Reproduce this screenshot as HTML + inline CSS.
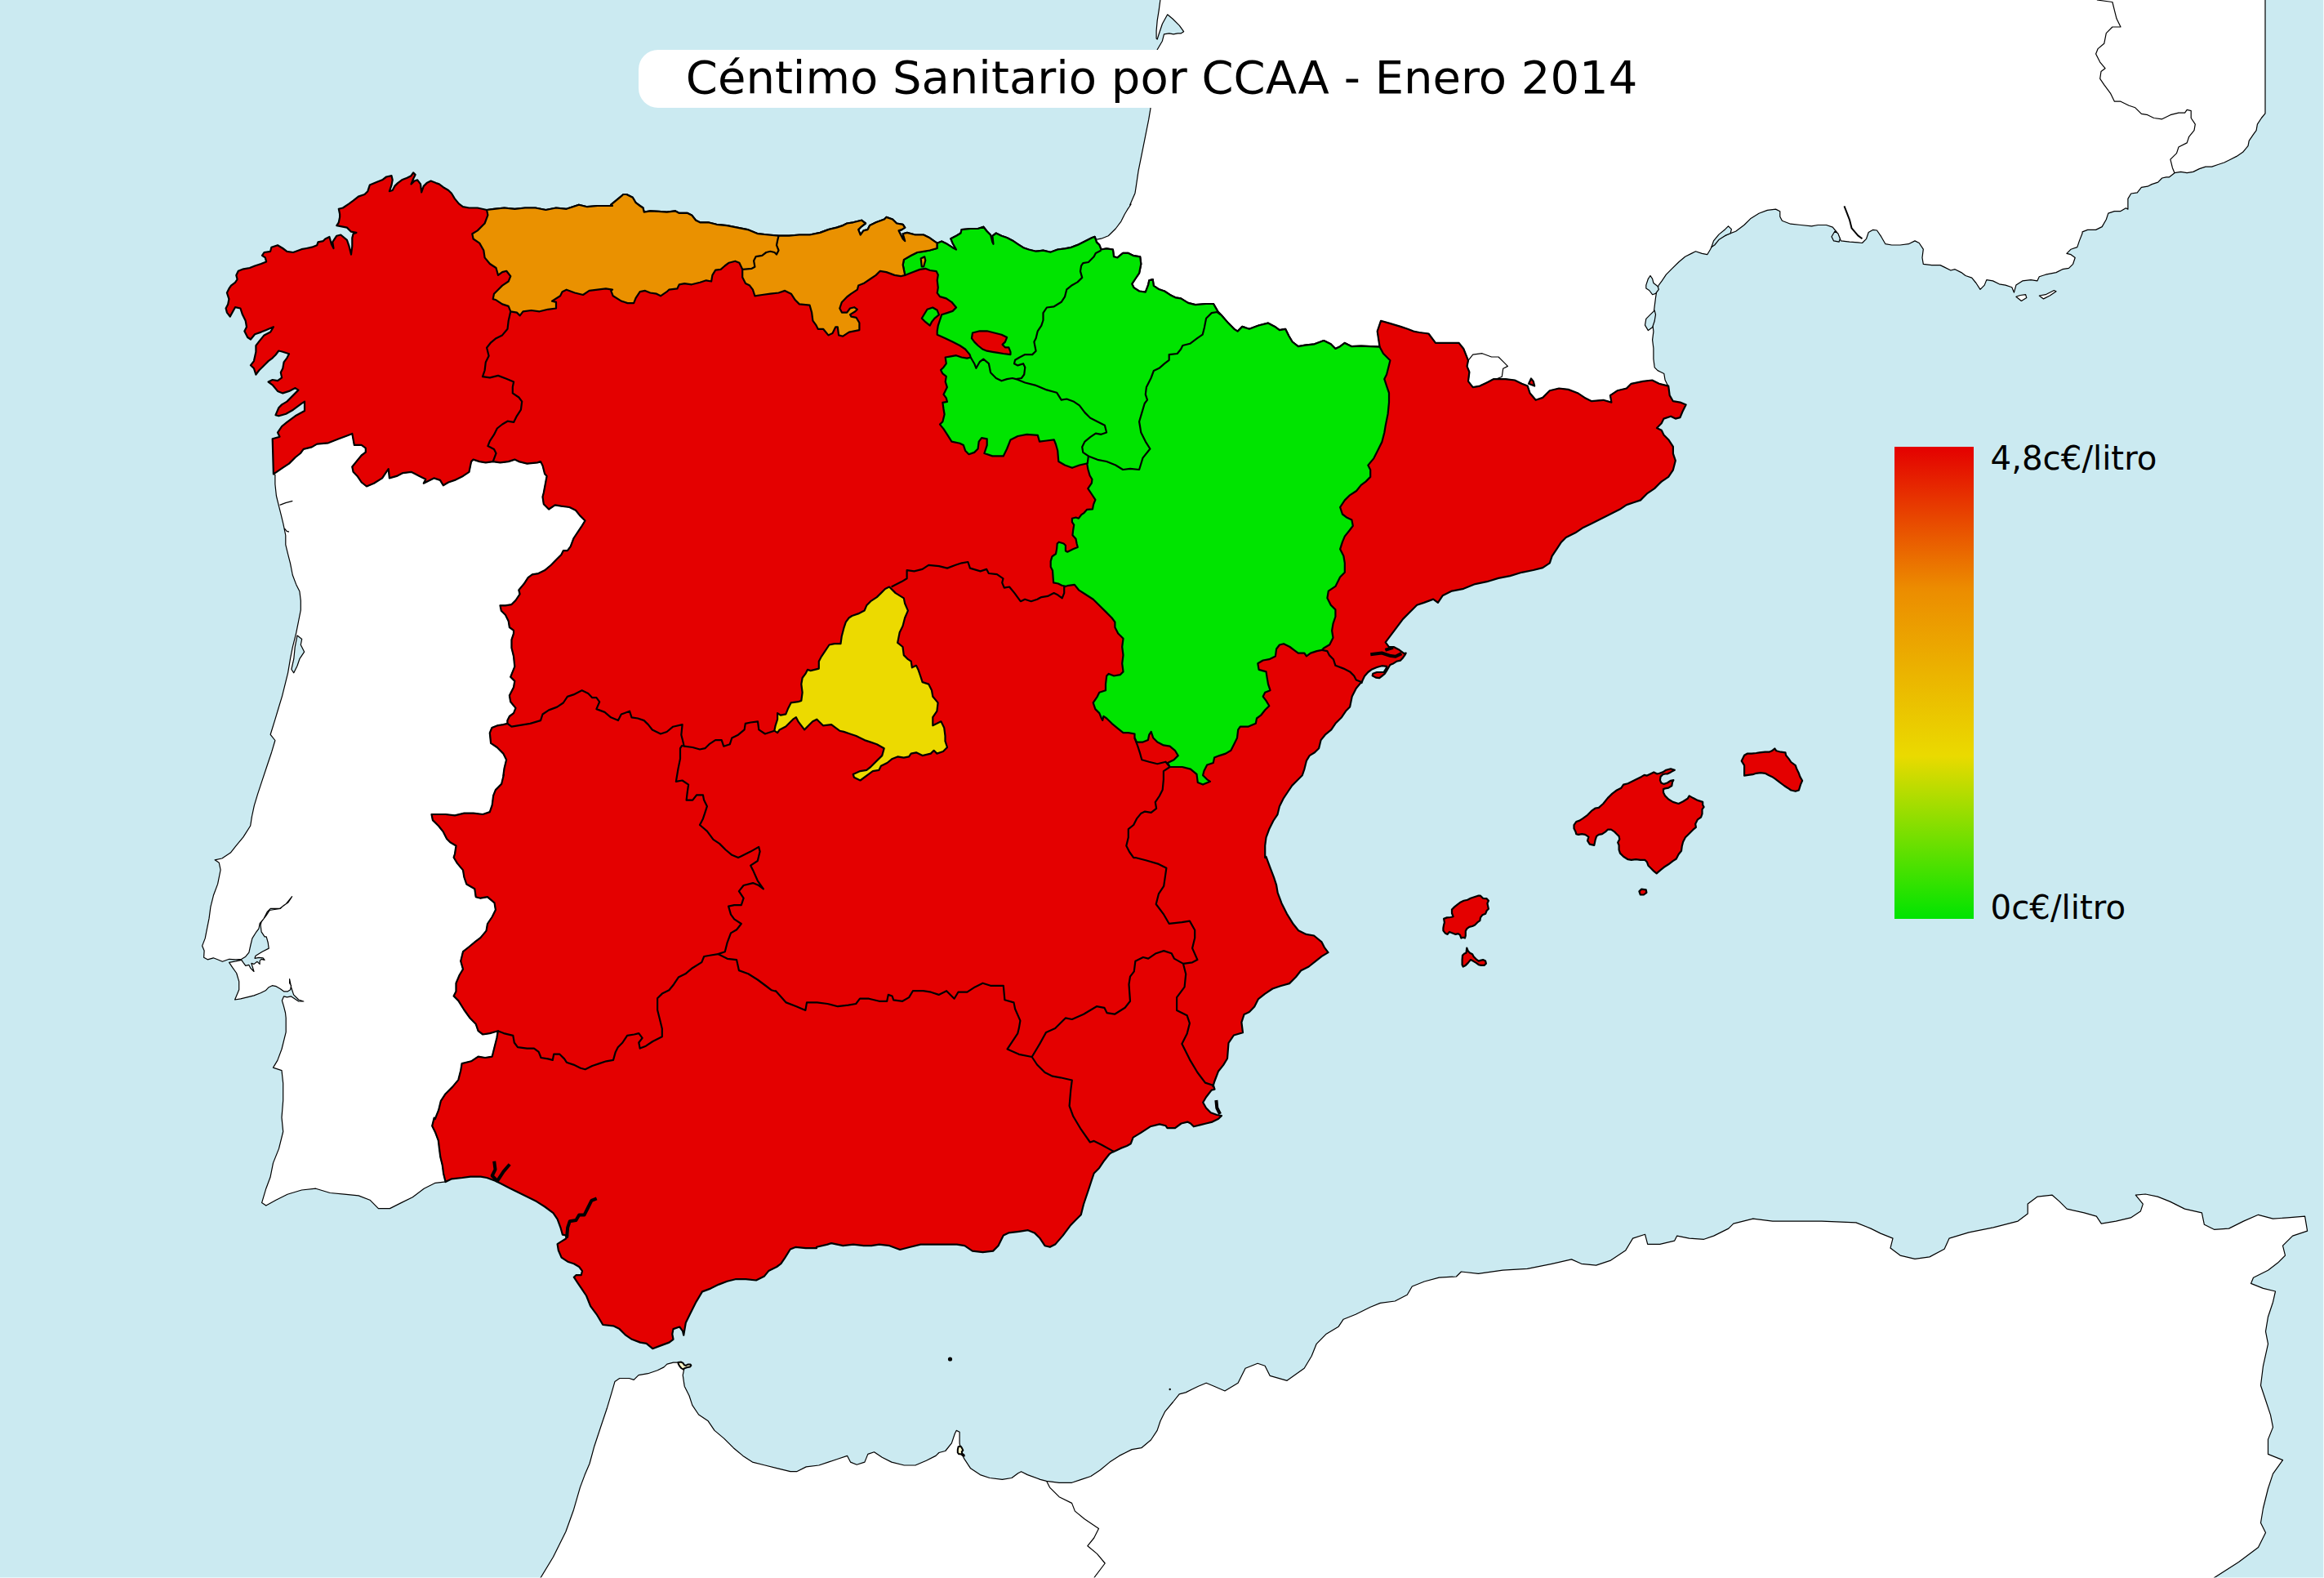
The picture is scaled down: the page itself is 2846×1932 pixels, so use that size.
<!DOCTYPE html><html><head><meta charset="utf-8"><title>Céntimo Sanitario por CCAA - Enero 2014</title><style>html,body{margin:0;padding:0;overflow:hidden;background:#cbeaf1;}svg{display:block;}</style></head><body><svg width="2846" height="1932" viewBox="0 0 2846 1932">
<defs><linearGradient id="cb" x1="0" y1="0" x2="0" y2="1"><stop offset="0" stop-color="#e40000"/><stop offset="0.3" stop-color="#ec8c00"/><stop offset="0.655" stop-color="#eada00"/><stop offset="1" stop-color="#00e400"/></linearGradient></defs>
<rect width="2846" height="1932" fill="#cbeaf1"/>
<g stroke="#000" stroke-width="1.2" stroke-linejoin="round" fill="#fff">
<polygon points="1421.5,-5.0 1420.9,0.0 1419.2,12.6 1417.2,25.1 1416.1,37.7 1416.1,47.1 1417.2,48.1 1419.2,41.8 1423.4,29.3 1429.7,17.8 1436.0,23.0 1444.4,31.4 1449.6,38.7 1446.4,40.8 1442.3,40.8 1437.0,41.8 1431.8,40.8 1425.5,41.8 1423.4,50.2 1417.2,60.7 1413.0,96.2 1408.8,133.9 1406.7,146.4 1402.5,167.4 1398.3,188.3 1394.1,209.2 1391.0,230.1 1390.0,236.4 1383.7,251.0 1385.1,250.0 1380.6,256.7 1377.3,262.2 1372.9,271.1 1366.2,280.0 1357.3,288.8 1348.5,292.2 1341.8,293.3 1348.5,305.5 1355.1,304.4 1362.9,305.5 1364.0,314.3 1368.4,315.4 1375.1,309.9 1381.8,309.9 1388.4,313.2 1396.2,314.3 1397.3,323.2 1395.1,334.3 1390.6,341.0 1386.2,347.6 1388.4,352.1 1395.1,356.5 1402.8,357.6 1406.2,348.7 1407.3,343.2 1411.7,342.1 1412.8,349.8 1419.5,354.3 1426.1,356.5 1432.8,360.9 1439.4,364.3 1446.1,365.4 1455.0,370.9 1463.8,373.1 1477.1,372.0 1486.0,372.0 1491.4,381.4 1495.6,385.7 1504.2,395.6 1511.3,402.8 1515.6,405.6 1521.3,399.9 1529.9,402.8 1541.3,398.5 1552.7,395.6 1561.2,399.9 1566.9,404.2 1574.1,402.8 1578.3,411.3 1582.6,418.5 1589.8,424.2 1598.3,422.7 1609.7,421.3 1621.1,417.0 1629.7,421.3 1635.4,427.0 1641.1,424.2 1646.8,419.9 1655.4,424.2 1666.8,423.6 1678.2,424.2 1689.6,424.7 1689.6,424.7 1688.2,415.6 1686.7,405.6 1691.0,392.8 1701.0,395.6 1715.2,399.9 1723.8,402.8 1730.9,405.6 1738.1,407.0 1749.5,408.5 1758.0,419.9 1769.4,419.9 1786.6,419.9 1792.3,427.0 1798.0,441.3 1798.0,441.3 1796.5,448.4 1799.4,455.5 1798.0,466.9 1803.7,474.1 1812.2,472.6 1820.8,468.4 1829.3,464.1 1832.2,464.1 1832.2,464.1 1843.6,464.1 1855.0,465.5 1863.6,469.8 1870.7,472.6 1873.5,481.2 1880.7,489.8 1889.2,486.9 1897.8,478.3 1909.2,475.5 1920.6,476.9 1932.0,481.2 1940.6,486.9 1949.1,491.2 1963.4,489.8 1973.4,492.6 1971.9,484.1 1980.5,478.3 1991.9,475.5 1997.6,469.8 2011.9,466.9 2023.3,465.5 2031.8,469.8 2043.2,472.6 2042.9,473.0 2039.1,465.3 2037.8,457.5 2030.0,453.6 2026.2,449.8 2024.9,439.4 2024.9,426.5 2023.6,416.2 2024.9,405.9 2023.6,395.6 2024.9,385.2 2026.2,374.9 2027.5,364.6 2028.7,356.8 2031.3,349.1 2035.2,343.9 2040.4,336.2 2048.1,328.4 2055.9,320.7 2063.6,314.2 2071.3,310.4 2076.5,307.8 2084.3,310.4 2090.7,311.7 2094.6,305.2 2097.2,300.0 2104.9,292.3 2115.2,287.1 2125.6,283.3 2135.9,275.5 2143.6,267.8 2154.0,261.3 2164.3,257.4 2174.6,256.1 2179.8,258.7 2179.8,265.2 2182.4,270.3 2192.7,274.2 2205.6,275.5 2218.5,276.8 2226.2,275.5 2236.6,275.5 2244.3,278.1 2249.5,284.5 2254.6,294.9 2265.0,296.2 2275.3,296.9 2280.5,297.5 2285.6,292.3 2288.2,284.5 2293.4,281.4 2298.5,282.0 2303.7,289.7 2308.9,298.7 2316.6,300.0 2326.9,300.0 2337.3,298.7 2345.0,294.9 2350.2,297.5 2355.3,305.2 2354.0,315.5 2355.3,323.3 2365.7,324.6 2376.0,324.6 2381.2,327.1 2388.9,331.0 2394.1,329.7 2401.8,333.6 2407.0,337.5 2414.7,340.1 2419.9,346.5 2425.0,354.3 2430.2,349.1 2432.8,342.6 2440.5,343.9 2448.3,347.8 2456.0,349.1 2463.8,351.7 2466.4,358.1 2468.9,349.1 2476.7,343.9 2487.0,342.6 2494.8,343.9 2497.3,338.8 2505.1,336.2 2518.0,333.6 2525.7,329.7 2533.5,328.4 2538.6,323.3 2541.2,315.5 2536.1,311.7 2530.9,310.4 2536.1,305.2 2543.8,302.6 2546.4,294.9 2550.0,285.8 2550.1,283.9 2556.5,281.4 2566.6,281.4 2574.2,277.6 2579.3,268.7 2581.8,261.1 2589.4,258.6 2597.0,258.6 2603.4,254.8 2605.9,256.1 2605.9,243.4 2609.7,237.0 2617.3,235.8 2622.4,229.4 2630.0,228.2 2635.1,225.6 2642.7,223.1 2647.7,218.0 2652.8,216.8 2656.6,216.8 2663.0,211.7 2670.6,210.4 2678.2,211.7 2685.8,210.4 2693.4,206.6 2701.0,204.1 2708.6,204.1 2716.2,201.5 2723.8,199.0 2731.4,195.2 2739.0,191.4 2746.6,186.3 2753.0,178.7 2754.2,172.4 2759.3,164.8 2763.1,159.7 2764.4,152.1 2769.4,144.5 2774.0,138.9 2774.0,-5.0"/>
<polygon points="336.9,581.4 336.9,592.8 338.4,607.0 341.2,618.4 344.1,629.8 346.9,641.3 349.8,655.5 349.8,666.9 352.6,678.3 355.5,689.7 358.3,704.0 362.6,715.4 366.9,724.0 368.3,735.4 368.3,746.8 365.5,761.0 362.6,775.3 358.3,792.4 355.5,806.7 352.6,823.8 349.8,835.2 345.5,852.3 341.2,866.5 336.9,880.8 331.2,899.3 336.9,906.5 332.7,920.7 327.0,937.8 321.3,954.9 315.6,972.1 311.3,986.3 308.4,1000.0 308.4,999.8 306.7,1011.0 297.9,1024.9 289.2,1035.4 282.3,1044.1 271.8,1051.0 263.1,1052.8 268.3,1056.3 270.1,1065.0 266.6,1082.4 261.4,1096.3 257.9,1110.3 256.1,1124.2 252.6,1141.6 251.2,1148.9 247.6,1158.1 250.1,1164.1 249.6,1172.3 254.2,1174.8 261.3,1172.8 266.4,1174.8 272.4,1177.3 280.6,1174.3 288.7,1174.8 295.8,1174.3 300.8,1171.2 304.9,1166.2 306.9,1157.0 308.9,1148.9 314.0,1140.8 317.0,1136.8 318.1,1130.7 323.1,1124.6 327.2,1116.5 331.2,1112.4 337.3,1112.4 342.4,1112.4 346.4,1109.4 350.5,1106.4 354.6,1101.3 357.6,1097.7 356.6,1099.3 352.5,1105.3 347.5,1108.4 343.4,1112.4 336.3,1113.5 330.2,1114.5 326.2,1120.6 320.1,1128.7 319.1,1132.7 320.1,1140.8 324.1,1146.9 326.2,1146.9 328.2,1154.0 329.2,1161.1 321.1,1165.2 313.0,1170.2 312.0,1173.3 317.0,1172.3 322.1,1172.8 324.1,1175.3 320.1,1174.3 318.1,1176.3 318.1,1180.4 315.0,1177.3 311.0,1180.4 307.9,1179.4 311.0,1189.5 306.9,1185.4 304.9,1181.4 300.8,1182.4 297.8,1178.3 295.8,1175.3 288.7,1176.8 280.6,1178.3 284.6,1184.4 289.7,1191.5 292.7,1201.7 292.7,1211.8 289.7,1218.9 287.6,1224.0 294.7,1222.9 302.9,1220.9 311.0,1218.9 319.1,1215.8 325.2,1212.8 329.2,1208.7 333.3,1206.7 338.3,1207.7 343.4,1210.8 347.5,1213.8 352.5,1213.8 355.6,1211.8 356.6,1206.7 354.6,1203.7 354.6,1198.6 356.6,1208.7 359.6,1217.9 365.7,1224.0 371.8,1226.0 365.7,1226.0 356.6,1219.9 351.5,1220.9 347.5,1219.9 345.4,1225.0 347.5,1232.1 349.5,1240.0 350.2,1246.2 350.2,1263.6 345.0,1284.5 339.8,1298.4 334.5,1307.1 345.0,1310.6 346.7,1326.3 346.7,1347.2 345.0,1368.1 346.7,1385.5 341.5,1406.4 334.5,1423.9 331.0,1441.3 325.8,1455.2 320.6,1472.6 325.8,1476.1 338.0,1469.2 352.0,1462.2 369.4,1457.0 386.8,1455.2 404.2,1460.5 421.6,1462.2 439.1,1463.9 453.0,1469.2 463.4,1479.6 477.4,1479.6 491.3,1472.6 505.3,1465.7 519.2,1455.2 533.1,1448.3 545.7,1446.9 545.6,1447.1 543.1,1436.9 541.8,1426.8 539.3,1416.6 538.0,1406.5 536.8,1396.3 533.0,1386.2 529.2,1378.6 531.7,1368.5 532.8,1370.0 537.1,1359.2 539.9,1347.8 545.6,1339.2 554.2,1330.6 561.3,1322.1 564.2,1310.7 565.6,1302.1 577.0,1299.3 585.6,1293.6 594.1,1295.0 602.7,1293.6 605.5,1282.2 608.4,1270.8 609.8,1262.2 599.8,1265.1 591.3,1266.5 585.6,1262.2 582.7,1253.7 575.6,1246.5 568.4,1236.5 561.3,1225.1 555.6,1219.4 558.5,1213.7 558.5,1203.7 562.7,1193.8 567.0,1186.6 564.2,1176.7 567.0,1165.2 574.1,1159.5 582.7,1152.4 588.4,1148.1 595.5,1139.6 597.0,1131.0 602.7,1122.5 606.9,1113.9 605.5,1105.4 597.0,1098.2 588.4,1099.7 582.7,1098.2 581.3,1088.3 571.3,1082.5 568.4,1074.0 567.0,1065.4 559.9,1056.9 555.6,1049.8 557.0,1045.5 558.5,1035.5 551.3,1031.2 547.1,1026.9 542.8,1018.4 537.1,1011.3 529.9,1004.1 528.5,997.0 545.6,997.0 557.0,998.4 568.4,995.6 579.8,995.6 591.3,997.0 599.8,994.1 602.7,985.6 604.1,974.2 606.9,967.1 614.1,959.9 616.9,948.5 616.3,950.0 617.6,940.4 620.1,930.2 616.3,922.6 608.7,915.0 601.1,909.9 599.8,897.3 602.4,890.9 608.7,888.4 616.3,887.1 621.4,885.9 621.4,882.1 623.9,877.0 629.0,873.2 631.5,866.9 625.2,859.3 623.9,851.6 629.0,841.5 630.3,833.9 625.2,828.8 630.3,816.2 629.0,803.5 626.5,793.3 626.5,783.2 629.0,775.6 629.0,771.8 623.9,768.0 622.7,760.4 618.9,752.8 613.8,747.7 612.5,741.4 618.9,741.4 626.5,740.1 631.5,735.0 636.6,727.4 635.3,722.4 641.7,714.8 646.7,707.2 651.8,703.4 659.4,702.1 667.0,698.3 674.6,692.0 682.2,684.3 687.3,679.3 689.8,674.2 694.9,674.2 698.7,669.1 702.5,659.0 707.6,651.4 712.6,643.8 716.5,637.5 710.1,631.1 705.0,624.8 697.4,621.0 687.3,619.7 679.7,618.4 672.1,623.5 665.8,617.2 664.5,608.3 665.8,603.2 669.6,583.0 667.0,579.9 667.1,580.3 664.6,570.2 662.0,565.1 658.2,566.4 645.5,567.6 635.4,565.1 630.3,562.6 622.7,565.1 612.6,566.4 603.7,565.1 594.8,566.4 587.2,565.1 579.6,562.6 577.1,565.1 574.5,577.8 566.9,582.9 556.8,587.9 549.2,590.5 542.8,594.3 539.0,587.9 531.4,585.4 523.8,589.2 518.8,591.7 521.3,586.7 513.7,582.9 503.5,577.8 493.4,579.1 485.8,582.9 476.9,585.4 475.7,574.0 473.1,577.8 468.1,585.4 457.9,591.7 449.0,595.5 442.7,590.5 437.6,582.9 432.6,577.8 431.3,571.5 436.4,565.1 442.7,557.5 447.8,553.7 447.8,548.6 442.7,544.8 433.8,544.8 431.3,530.9 424.9,533.4 414.8,537.2 402.1,542.3 388.2,543.6 381.8,547.4 371.7,549.9 367.9,555.0 361.6,560.0 354.0,567.6 346.3,572.7 338.7,577.8 334.9,580.3"/>
<polygon points="662.0,1931.8 677.5,1906.3 692.9,1875.3 702.6,1848.2 710.4,1821.1 716.2,1805.6 722.0,1792.0 727.8,1770.7 735.5,1747.5 743.3,1724.3 749.1,1704.9 753.0,1691.4 758.8,1687.5 770.4,1687.5 776.2,1689.4 782.0,1683.6 793.6,1681.7 805.2,1677.8 813.0,1673.9 816.9,1670.1 824.6,1668.1 830.4,1668.1 834.3,1673.9 838.2,1673.9 836.2,1683.6 838.2,1697.2 844.0,1708.8 847.8,1720.4 855.6,1732.0 867.2,1739.8 875.0,1751.4 886.6,1761.1 898.2,1772.7 909.8,1782.4 921.4,1790.1 936.9,1794.0 952.4,1797.8 967.9,1801.7 975.6,1801.7 987.3,1795.9 1002.8,1794.0 1014.4,1790.1 1026.0,1786.2 1037.6,1782.4 1041.5,1790.1 1049.2,1793.2 1058.9,1790.1 1062.8,1780.4 1070.5,1777.7 1080.2,1784.3 1091.8,1790.1 1107.3,1794.0 1120.9,1794.0 1134.4,1788.2 1146.0,1782.4 1149.9,1778.5 1157.7,1776.5 1165.4,1766.9 1169.3,1755.2 1171.2,1751.4 1175.1,1753.3 1175.1,1766.9 1177.0,1778.5 1180.9,1786.2 1188.6,1797.8 1200.3,1805.6 1211.9,1809.5 1227.4,1811.4 1239.0,1809.5 1246.7,1803.7 1250.6,1801.7 1258.3,1805.6 1273.8,1811.4 1281.6,1813.3 1297.1,1815.3 1312.6,1815.3 1324.2,1811.4 1335.8,1807.5 1347.4,1799.8 1359.0,1790.1 1370.7,1782.4 1386.1,1774.6 1397.8,1772.7 1409.4,1763.0 1417.1,1751.4 1421.0,1739.8 1426.8,1728.1 1436.5,1716.5 1444.2,1706.8 1452.0,1704.9 1459.7,1701.0 1467.5,1697.2 1477.2,1693.3 1486.8,1697.2 1500.0,1703.0 1499.9,1702.9 1516.1,1693.3 1525.1,1675.3 1540.1,1669.3 1549.1,1672.3 1555.1,1684.3 1576.1,1690.3 1597.2,1675.3 1606.2,1660.3 1612.2,1645.3 1624.2,1633.2 1639.2,1624.2 1645.2,1615.2 1660.2,1609.2 1678.3,1600.2 1690.3,1595.4 1708.3,1593.0 1723.3,1585.2 1729.3,1575.0 1744.3,1569.0 1762.4,1564.2 1783.4,1563.0 1789.4,1557.0 1810.4,1559.4 1840.4,1555.2 1870.5,1553.4 1900.5,1547.3 1924.5,1541.9 1936.6,1547.3 1954.6,1549.1 1972.6,1543.1 1990.6,1531.1 1999.6,1516.1 2014.6,1511.3 2017.7,1523.3 2032.7,1523.3 2050.7,1519.1 2053.7,1513.1 2068.7,1516.1 2086.7,1517.3 2098.7,1513.1 2116.8,1504.1 2122.8,1498.1 2146.8,1492.1 2170.8,1495.1 2206.9,1495.1 2230.9,1495.1 2272.9,1496.9 2291.0,1504.1 2303.0,1510.1 2318.0,1516.1 2315.0,1528.1 2327.0,1537.1 2345.0,1541.3 2363.0,1538.9 2381.1,1529.3 2387.1,1516.1 2411.1,1508.9 2441.1,1502.9 2471.2,1495.1 2483.2,1486.1 2483.2,1474.1 2495.2,1465.1 2513.2,1463.2 2522.2,1471.1 2531.2,1480.1 2552.3,1484.9 2567.3,1489.1 2573.3,1498.1 2591.3,1495.1 2609.3,1490.9 2621.3,1483.1 2624.3,1474.1 2615.3,1463.2 2627.3,1462.0 2642.4,1465.1 2657.4,1471.1 2675.4,1480.1 2696.4,1484.9 2699.4,1499.3 2711.4,1505.3 2729.5,1504.1 2747.5,1495.1 2765.5,1487.3 2783.5,1492.1 2801.5,1490.9 2822.6,1489.1 2825.6,1507.1 2807.6,1513.1 2795.5,1525.1 2798.5,1537.1 2789.5,1546.1 2777.5,1555.2 2759.5,1564.2 2756.5,1571.4 2771.5,1577.4 2786.5,1581.0 2783.5,1594.2 2777.5,1612.2 2774.5,1630.2 2777.5,1645.3 2771.5,1672.3 2768.5,1696.3 2774.5,1714.3 2780.5,1732.4 2783.5,1747.4 2777.5,1762.4 2777.5,1780.4 2795.5,1787.6 2783.5,1804.4 2777.5,1822.5 2771.5,1846.5 2768.5,1864.5 2774.5,1876.5 2765.5,1894.5 2741.5,1912.6 2711.4,1931.8 2711.0,1935.0 662.0,1935.0"/>
<polygon points="2468.9,363.3 2474.1,361.5 2480.6,360.7 2481.8,364.6 2475.4,368.5"/>
<polygon points="2497.3,362.0 2505.1,360.7 2515.4,355.5 2518.0,356.8 2510.2,362.0 2502.5,365.9"/>
<polygon fill="#cbeaf1" points="2095.9,302.6 2098.5,294.9 2104.9,287.1 2112.7,280.7 2116.5,276.8 2120.4,280.7 2119.1,285.8 2112.7,288.4 2104.9,293.6 2099.7,300.0"/>
<polygon fill="#cbeaf1" points="2015.8,349.1 2018.4,341.3 2021.0,337.5 2023.6,341.3 2024.9,346.5 2030.0,350.4 2031.3,354.3 2027.5,359.4 2023.6,360.7 2019.7,355.5 2015.8,353.0"/>
<polygon fill="#cbeaf1" points="2014.5,398.1 2015.8,390.4 2021.0,385.2 2026.2,380.1 2027.5,385.2 2026.2,393.0 2023.6,400.7 2018.4,404.6"/>
<polygon fill="#cbeaf1" points="2243.0,289.7 2246.9,283.3 2250.8,285.8 2253.4,292.3 2252.1,296.2 2245.6,294.9"/>
<polygon fill="#cbeaf1" points="364.0,778.1 369.7,782.4 368.3,789.5 372.6,798.1 366.9,806.7 364.0,815.2 359.8,823.8 356.9,819.5 359.8,806.7 361.2,792.4"/>
</g>
<g fill="none" stroke="#000" stroke-width="1.2" stroke-linejoin="round">
<polyline points="1798.0,441.3 1803.7,434.1 1815.1,432.7 1826.5,437.0 1835.0,437.0 1840.7,442.7 1846.4,448.4 1840.7,451.3 1839.3,461.2 1832.2,464.1"/>
<polyline points="2567.9,0.0 2586.9,2.5 2589.4,12.7 2592.0,22.8 2597.0,33.0 2586.9,33.0 2579.3,40.6 2576.8,53.2 2569.2,59.6 2566.6,65.9 2571.7,76.1 2578.0,83.7 2573.0,87.5 2571.7,96.3 2576.8,103.9 2584.4,114.1 2589.4,124.2 2597.0,124.2 2607.2,129.3 2614.8,131.8 2622.4,139.4 2630.0,140.7 2637.6,144.5 2647.7,145.8 2657.9,140.7 2668.0,138.2 2675.6,138.2 2678.2,134.4 2683.2,135.6 2683.2,144.5 2688.3,152.1 2687.0,159.7 2680.7,167.3 2678.2,174.9 2668.0,180.0 2665.5,187.6 2657.9,195.2 2660.4,205.4 2663.0,211.7"/>
<polyline points="1281.6,1813.3 1285.5,1821.1 1297.1,1832.7 1312.6,1840.4 1316.4,1850.1 1328.1,1859.8 1345.5,1871.4 1339.7,1883.0 1331.9,1892.7 1343.5,1902.4 1353.2,1914.0 1339.7,1931.8"/>
<polyline points="342.6,618.4 349.8,615.6 358.3,613.3"/>
<polyline points="348.3,647.0 351.2,650.4 354.0,651.2"/>
<polyline stroke-width="2" points="2258.5,252.3 2265.0,269.1 2267.6,279.4 2275.3,288.4 2280.5,292.3"/>
</g>
<g stroke="#000" stroke-width="2.2" stroke-linejoin="round">
<polygon fill="#e40000" points="334.9,580.3 333.7,537.2 342.5,534.7 340.0,529.6 345.1,522.0 351.4,516.9 361.6,509.3 373.0,503.0 373.0,491.6 369.2,494.1 359.0,501.7 350.2,506.8 341.3,509.3 337.5,508.1 341.3,499.2 345.1,495.4 351.4,491.6 361.6,481.4 365.4,477.6 361.6,475.1 354.0,478.9 346.3,481.4 340.0,478.9 333.7,471.3 328.6,467.5 333.7,465.0 340.0,466.2 345.1,462.4 343.8,456.1 346.3,451.0 347.6,443.4 351.4,438.3 354.0,433.3 346.3,430.7 341.3,429.5 337.5,434.5 333.7,438.3 328.6,442.1 323.5,447.2 317.2,453.5 313.4,458.6 310.9,451.0 307.0,447.2 310.9,442.1 313.4,430.7 313.4,423.1 317.2,418.1 323.5,410.4 331.1,406.6 334.9,400.3 326.1,404.1 319.7,406.6 312.1,409.2 307.0,415.5 303.2,413.0 299.4,405.4 302.0,400.3 300.7,392.7 296.9,385.1 294.4,377.5 288.0,376.2 281.7,387.6 277.9,382.6 276.6,377.5 279.2,372.4 280.4,366.1 277.9,358.5 280.4,353.4 283.0,349.6 288.0,345.8 290.6,342.0 289.3,336.9 291.8,331.8 298.2,329.3 305.8,328.0 312.1,325.5 319.7,323.0 326.1,320.4 324.8,315.4 321.0,312.8 323.5,309.0 331.1,307.8 332.4,302.7 340.0,300.2 346.3,304.0 351.4,307.8 359.0,309.0 369.2,305.2 375.5,304.0 381.8,302.7 388.2,300.2 389.5,296.3 395.8,295.1 398.3,292.5 403.4,290.0 405.9,298.9 408.5,304.0 407.2,296.3 412.3,288.7 417.3,287.5 424.9,293.8 427.5,301.4 430.0,311.6 431.3,301.4 431.3,291.3 432.6,286.2 436.4,284.9 430.0,283.7 424.9,278.6 418.6,277.3 412.3,276.1 414.8,272.3 416.1,265.9 416.1,262.1 414.8,255.8 419.9,254.5 427.5,249.4 432.6,245.6 438.9,240.6 446.5,238.0 450.3,234.2 452.8,226.6 461.7,222.8 468.1,220.3 473.1,216.5 479.5,215.2 480.7,220.3 479.5,226.6 476.9,234.2 480.7,233.0 483.3,227.9 487.1,224.1 492.1,220.3 498.5,217.7 503.5,215.2 506.1,211.4 508.6,213.9 506.1,219.0 503.5,225.4 507.4,221.6 511.2,220.3 515.0,225.4 516.2,235.5 518.8,227.9 522.6,224.1 527.6,221.6 534.0,224.1 537.8,225.4 542.8,229.2 549.2,233.0 553.0,236.8 556.8,243.1 561.9,249.4 566.9,253.2 574.5,254.5 584.7,254.5 596.1,257.0 596.1,257.0 605.0,255.8 617.6,254.5 630.3,255.8 643.0,254.5 655.7,254.5 668.4,257.0 681.0,254.5 693.7,255.8 708.9,250.7 719.1,253.2 731.7,252.0 750.0,252.0 748.2,250.7 755.8,244.4 763.4,238.0 767.2,238.0 774.8,241.8 778.6,248.2 783.7,252.0 787.5,254.5 788.7,259.6 796.3,258.3 806.5,258.8 816.6,259.6 826.8,258.3 831.8,260.9 842.0,260.9 847.1,263.4 852.1,269.7 857.2,272.3 867.3,272.3 877.5,274.8 890.2,276.1 902.8,278.6 915.5,281.1 928.2,286.2 940.9,287.5 953.5,288.7 953.5,288.7 966.2,288.7 978.9,287.5 991.6,287.5 1004.3,284.9 1014.4,281.1 1024.5,278.6 1032.2,276.1 1037.2,273.5 1044.8,272.3 1055.0,269.7 1060.0,273.5 1055.0,277.3 1051.2,281.1 1053.7,287.5 1057.5,282.4 1062.6,281.1 1065.1,276.1 1072.7,272.3 1082.9,268.5 1085.4,265.9 1093.0,268.5 1098.1,273.5 1105.7,274.8 1108.2,278.6 1104.4,281.1 1100.6,282.4 1103.1,287.5 1105.7,292.5 1108.2,295.1 1105.7,286.2 1110.8,284.9 1120.9,287.5 1131.0,287.5 1138.6,291.3 1147.5,297.6 1147.7,297.7 1153.2,295.5 1159.9,298.8 1166.6,303.2 1171.0,305.5 1166.6,297.7 1164.3,292.2 1171.0,288.8 1176.5,285.5 1177.6,281.1 1188.7,280.0 1197.6,280.0 1204.3,277.7 1208.7,283.3 1213.1,287.7 1215.4,296.6 1216.5,298.8 1215.4,288.8 1219.8,285.5 1226.5,288.8 1233.1,291.0 1239.8,294.4 1246.4,298.8 1253.1,303.2 1259.7,305.5 1268.6,307.7 1277.5,306.6 1286.4,308.8 1295.2,305.5 1304.1,304.4 1310.8,303.2 1319.6,299.9 1328.5,295.5 1337.4,291.0 1340.7,289.9 1342.9,296.6 1346.3,299.9 1348.5,305.5 1348.5,305.5 1355.1,304.4 1362.9,305.5 1364.0,314.3 1368.4,315.4 1375.1,309.9 1381.8,309.9 1388.4,313.2 1396.2,314.3 1397.3,323.2 1395.1,334.3 1390.6,341.0 1386.2,347.6 1388.4,352.1 1395.1,356.5 1402.8,357.6 1406.2,348.7 1407.3,343.2 1411.7,342.1 1412.8,349.8 1419.5,354.3 1426.1,356.5 1432.8,360.9 1439.4,364.3 1446.1,365.4 1455.0,370.9 1463.8,373.1 1477.1,372.0 1486.0,372.0 1491.4,381.4 1495.6,385.7 1504.2,395.6 1511.3,402.8 1515.6,405.6 1521.3,399.9 1529.9,402.8 1541.3,398.5 1552.7,395.6 1561.2,399.9 1566.9,404.2 1574.1,402.8 1578.3,411.3 1582.6,418.5 1589.8,424.2 1598.3,422.7 1609.7,421.3 1621.1,417.0 1629.7,421.3 1635.4,427.0 1641.1,424.2 1646.8,419.9 1655.4,424.2 1666.8,423.6 1678.2,424.2 1689.6,424.7 1689.6,424.7 1688.2,415.6 1686.7,405.6 1691.0,392.8 1701.0,395.6 1715.2,399.9 1723.8,402.8 1730.9,405.6 1738.1,407.0 1749.5,408.5 1758.0,419.9 1769.4,419.9 1786.6,419.9 1792.3,427.0 1798.0,441.3 1798.0,441.3 1796.5,448.4 1799.4,455.5 1798.0,466.9 1803.7,474.1 1812.2,472.6 1820.8,468.4 1829.3,464.1 1832.2,464.1 1832.2,464.1 1843.6,464.1 1855.0,465.5 1863.6,469.8 1870.7,472.6 1873.5,481.2 1880.7,489.8 1889.2,486.9 1897.8,478.3 1909.2,475.5 1920.6,476.9 1932.0,481.2 1940.6,486.9 1949.1,491.2 1963.4,489.8 1973.4,492.6 1971.9,484.1 1980.5,478.3 1991.9,475.5 1997.6,469.8 2011.9,466.9 2023.3,465.5 2031.8,469.8 2043.2,472.6 2043.2,472.6 2044.7,484.1 2048.9,491.2 2057.5,492.6 2064.6,495.5 2060.4,504.0 2057.5,511.1 2051.8,512.6 2046.1,509.7 2037.5,512.6 2034.7,518.3 2029.0,524.0 2034.7,526.8 2037.5,532.5 2043.2,538.2 2048.9,546.8 2048.9,555.4 2051.8,563.9 2048.9,575.3 2043.2,583.9 2034.7,589.6 2026.1,598.1 2017.6,603.8 2009.0,612.4 2000.5,615.2 1991.9,618.1 1983.3,623.8 1971.9,629.5 1960.5,635.2 1949.1,640.9 1937.7,646.6 1929.2,652.3 1917.7,658.0 1912.0,663.7 1906.3,672.3 1900.6,680.8 1897.8,689.4 1889.2,695.1 1877.8,698.0 1863.6,700.8 1849.3,705.1 1835.0,707.9 1820.8,712.2 1806.5,715.1 1792.3,720.8 1778.0,723.6 1766.6,729.3 1760.9,737.9 1755.2,733.6 1743.8,737.9 1735.2,740.7 1726.7,749.3 1718.1,757.9 1709.5,769.3 1701.0,780.7 1696.7,786.4 1701.0,792.1 1706.7,792.1 1712.4,794.9 1719.5,800.1 1721.7,799.5 1720.5,801.9 1717.5,806.1 1715.1,808.6 1710.2,809.8 1706.6,812.2 1702.4,814.0 1700.6,817.0 1698.2,821.2 1695.8,824.8 1692.2,827.8 1689.2,830.2 1684.9,829.6 1680.7,827.2 1681.3,824.8 1686.1,823.0 1690.4,823.0 1694.6,823.0 1697.6,818.2 1698.2,815.8 1692.2,815.2 1686.1,817.0 1680.1,819.4 1675.3,823.0 1671.1,827.8 1668.7,832.7 1667.5,836.0 1667.1,835.1 1660.8,842.7 1655.7,852.8 1653.1,865.5 1648.1,870.6 1643.0,878.2 1635.4,885.8 1630.3,893.4 1622.7,899.7 1617.6,906.1 1615.1,916.2 1610.0,921.3 1603.7,925.1 1599.9,931.4 1597.4,941.6 1594.8,949.2 1589.8,954.3 1582.2,961.9 1577.1,969.5 1572.0,977.1 1566.9,987.2 1564.4,997.4 1559.3,1005.0 1554.3,1015.1 1550.5,1025.3 1549.2,1035.4 1549.2,1050.1 1550.5,1048.9 1555.2,1061.6 1560.0,1074.2 1563.1,1083.7 1564.7,1093.2 1569.5,1105.9 1575.8,1118.6 1583.7,1131.3 1590.1,1139.2 1599.6,1143.9 1609.1,1145.5 1618.6,1153.4 1621.8,1159.8 1626.5,1166.1 1618.6,1170.9 1610.7,1177.2 1602.7,1183.5 1593.2,1188.3 1586.9,1196.2 1579.0,1204.1 1567.9,1207.3 1558.4,1210.5 1548.9,1216.8 1541.0,1223.1 1536.2,1232.6 1529.9,1239.0 1523.5,1242.1 1520.4,1251.6 1522.0,1264.3 1510.9,1267.5 1504.5,1277.0 1503.0,1296.0 1498.2,1303.9 1491.9,1311.8 1487.1,1324.5 1485.5,1330.2 1485.6,1327.9 1487.5,1333.7 1483.7,1334.6 1477.0,1343.2 1473.2,1349.8 1477.0,1356.5 1482.7,1362.2 1490.3,1365.0 1496.0,1366.0 1492.2,1369.8 1484.6,1373.6 1477.0,1375.5 1469.4,1377.4 1461.8,1379.3 1458.0,1375.5 1454.2,1373.6 1446.6,1375.5 1439.0,1381.2 1429.5,1381.2 1427.6,1378.3 1420.0,1376.4 1408.6,1379.3 1397.1,1386.9 1387.6,1392.6 1384.8,1400.2 1380.0,1403.0 1372.4,1405.9 1362.9,1410.6 1363.5,1409.6 1358.7,1412.8 1352.4,1420.7 1346.0,1430.2 1339.7,1436.5 1336.5,1446.0 1333.4,1455.5 1330.2,1465.0 1327.0,1474.5 1323.8,1487.2 1317.5,1493.5 1311.2,1499.9 1301.7,1512.6 1292.2,1523.6 1285.8,1526.8 1279.5,1525.2 1273.2,1515.7 1266.8,1509.4 1258.9,1506.2 1247.8,1507.8 1235.1,1509.4 1228.8,1512.6 1222.5,1525.2 1216.1,1531.6 1203.5,1533.2 1190.8,1531.6 1181.3,1525.2 1171.8,1523.6 1155.9,1523.6 1140.1,1523.6 1127.4,1523.6 1114.7,1526.8 1102.1,1530.0 1089.4,1525.2 1076.7,1523.6 1067.2,1525.2 1057.7,1525.2 1045.0,1523.6 1032.4,1525.2 1018.1,1522.1 1013.4,1523.6 1000.1,1526.8 1000.0,1528.2 986.8,1528.2 974.1,1526.9 967.8,1529.5 961.5,1539.6 956.4,1547.2 951.3,1551.0 941.2,1556.1 936.1,1562.4 926.0,1567.5 913.3,1566.2 900.6,1566.2 890.5,1568.8 880.3,1572.6 870.2,1577.6 860.0,1581.4 852.4,1594.1 844.8,1609.3 839.8,1619.5 837.2,1634.7 836.0,1629.6 832.2,1624.5 824.5,1627.1 823.3,1633.4 824.5,1639.8 819.5,1643.6 809.3,1647.4 799.2,1651.2 791.6,1644.8 784.0,1643.6 773.8,1639.8 766.2,1634.7 758.6,1627.1 751.0,1623.3 738.3,1622.0 730.7,1609.3 723.1,1599.2 718.1,1586.5 713.0,1578.9 707.9,1571.3 702.8,1563.7 705.4,1561.2 711.7,1561.2 713.0,1556.1 709.2,1551.0 702.8,1547.2 695.2,1544.7 687.6,1539.6 683.8,1530.7 682.6,1523.1 686.4,1520.6 692.7,1516.8 695.2,1513.0 688.9,1511.7 686.4,1502.8 682.6,1492.7 677.5,1485.1 667.3,1477.5 657.2,1471.1 647.1,1466.1 634.4,1459.7 624.2,1454.7 614.1,1449.6 606.5,1445.8 596.3,1442.0 588.7,1440.7 576.1,1440.7 565.9,1442.0 553.2,1443.3 545.6,1447.1 545.6,1447.1 543.1,1436.9 541.8,1426.8 539.3,1416.6 538.0,1406.5 536.8,1396.3 533.0,1386.2 529.2,1378.6 531.7,1368.5 532.8,1370.0 537.1,1359.2 539.9,1347.8 545.6,1339.2 554.2,1330.6 561.3,1322.1 564.2,1310.7 565.6,1302.1 577.0,1299.3 585.6,1293.6 594.1,1295.0 602.7,1293.6 605.5,1282.2 608.4,1270.8 609.8,1262.2 599.8,1265.1 591.3,1266.5 585.6,1262.2 582.7,1253.7 575.6,1246.5 568.4,1236.5 561.3,1225.1 555.6,1219.4 558.5,1213.7 558.5,1203.7 562.7,1193.8 567.0,1186.6 564.2,1176.7 567.0,1165.2 574.1,1159.5 582.7,1152.4 588.4,1148.1 595.5,1139.6 597.0,1131.0 602.7,1122.5 606.9,1113.9 605.5,1105.4 597.0,1098.2 588.4,1099.7 582.7,1098.2 581.3,1088.3 571.3,1082.5 568.4,1074.0 567.0,1065.4 559.9,1056.9 555.6,1049.8 557.0,1045.5 558.5,1035.5 551.3,1031.2 547.1,1026.9 542.8,1018.4 537.1,1011.3 529.9,1004.1 528.5,997.0 545.6,997.0 557.0,998.4 568.4,995.6 579.8,995.6 591.3,997.0 599.8,994.1 602.7,985.6 604.1,974.2 606.9,967.1 614.1,959.9 616.9,948.5 616.3,950.0 617.6,940.4 620.1,930.2 616.3,922.6 608.7,915.0 601.1,909.9 599.8,897.3 602.4,890.9 608.7,888.4 616.3,887.1 621.4,885.9 621.4,882.1 623.9,877.0 629.0,873.2 631.5,866.9 625.2,859.3 623.9,851.6 629.0,841.5 630.3,833.9 625.2,828.8 630.3,816.2 629.0,803.5 626.5,793.3 626.5,783.2 629.0,775.6 629.0,771.8 623.9,768.0 622.7,760.4 618.9,752.8 613.8,747.7 612.5,741.4 618.9,741.4 626.5,740.1 631.5,735.0 636.6,727.4 635.3,722.4 641.7,714.8 646.7,707.2 651.8,703.4 659.4,702.1 667.0,698.3 674.6,692.0 682.2,684.3 687.3,679.3 689.8,674.2 694.9,674.2 698.7,669.1 702.5,659.0 707.6,651.4 712.6,643.8 716.5,637.5 710.1,631.1 705.0,624.8 697.4,621.0 687.3,619.7 679.7,618.4 672.1,623.5 665.8,617.2 664.5,608.3 665.8,603.2 669.6,583.0 667.0,579.9 667.1,580.3 664.6,570.2 662.0,565.1 658.2,566.4 645.5,567.6 635.4,565.1 630.3,562.6 622.7,565.1 612.6,566.4 603.7,565.1 594.8,566.4 587.2,565.1 579.6,562.6 577.1,565.1 574.5,577.8 566.9,582.9 556.8,587.9 549.2,590.5 542.8,594.3 539.0,587.9 531.4,585.4 523.8,589.2 518.8,591.7 521.3,586.7 513.7,582.9 503.5,577.8 493.4,579.1 485.8,582.9 476.9,585.4 475.7,574.0 473.1,577.8 468.1,585.4 457.9,591.7 449.0,595.5 442.7,590.5 437.6,582.9 432.6,577.8 431.3,571.5 436.4,565.1 442.7,557.5 447.8,553.7 447.8,548.6 442.7,544.8 433.8,544.8 431.3,530.9 424.9,533.4 414.8,537.2 402.1,542.3 388.2,543.6 381.8,547.4 371.7,549.9 367.9,555.0 361.6,560.0 354.0,567.6 346.3,572.7 338.7,577.8 334.9,580.3"/>
<polygon fill="#00e400" points="1147.7,297.7 1153.2,295.5 1159.9,298.8 1166.6,303.2 1171.0,305.5 1166.6,297.7 1164.3,292.2 1171.0,288.8 1176.5,285.5 1177.6,281.1 1188.7,280.0 1197.6,280.0 1204.3,277.7 1208.7,283.3 1213.1,287.7 1215.4,296.6 1216.5,298.8 1215.4,288.8 1219.8,285.5 1226.5,288.8 1233.1,291.0 1239.8,294.4 1246.4,298.8 1253.1,303.2 1259.7,305.5 1268.6,307.7 1277.5,306.6 1286.4,308.8 1295.2,305.5 1304.1,304.4 1310.8,303.2 1319.6,299.9 1328.5,295.5 1337.4,291.0 1340.7,289.9 1342.9,296.6 1346.3,299.9 1348.5,305.5 1348.5,305.5 1355.1,304.4 1362.9,305.5 1364.0,314.3 1368.4,315.4 1375.1,309.9 1381.8,309.9 1388.4,313.2 1396.2,314.3 1397.3,323.2 1395.1,334.3 1390.6,341.0 1386.2,347.6 1388.4,352.1 1395.1,356.5 1402.8,357.6 1406.2,348.7 1407.3,343.2 1411.7,342.1 1412.8,349.8 1419.5,354.3 1426.1,356.5 1432.8,360.9 1439.4,364.3 1446.1,365.4 1455.0,370.9 1463.8,373.1 1477.1,372.0 1486.0,372.0 1491.4,381.4 1495.6,385.7 1504.2,395.6 1511.3,402.8 1515.6,405.6 1521.3,399.9 1529.9,402.8 1541.3,398.5 1552.7,395.6 1561.2,399.9 1566.9,404.2 1574.1,402.8 1578.3,411.3 1582.6,418.5 1589.8,424.2 1598.3,422.7 1609.7,421.3 1621.1,417.0 1629.7,421.3 1635.4,427.0 1641.1,424.2 1646.8,419.9 1655.4,424.2 1666.8,423.6 1678.2,424.2 1689.6,424.7 1689.6,424.7 1693.9,432.7 1702.4,441.3 1701.0,447.0 1698.1,458.4 1695.3,464.1 1698.1,472.6 1701.0,481.2 1701.0,492.6 1699.6,506.9 1696.7,521.1 1695.3,529.7 1692.4,541.1 1686.7,552.5 1682.4,561.1 1675.3,569.6 1678.2,575.3 1678.2,583.9 1672.5,589.6 1666.8,593.9 1661.1,601.0 1652.5,606.7 1646.8,612.4 1641.1,621.0 1643.9,629.5 1649.6,633.8 1655.4,636.6 1656.8,643.8 1652.5,649.5 1646.8,656.6 1643.9,663.7 1641.1,672.3 1645.4,680.8 1646.8,689.4 1646.8,700.8 1641.1,706.5 1635.4,717.9 1626.8,723.6 1625.4,732.2 1629.7,740.7 1635.4,746.4 1635.4,755.0 1632.5,763.6 1631.1,772.1 1632.5,780.7 1628.3,789.2 1621.1,793.5 1618.9,795.8 1612.6,797.1 1605.0,799.6 1599.9,803.4 1597.4,799.6 1589.8,799.6 1584.7,795.8 1579.6,792.0 1572.0,788.2 1566.9,789.5 1563.1,794.5 1561.9,803.4 1554.3,807.2 1546.7,808.5 1540.3,812.3 1541.6,819.9 1550.5,822.4 1551.7,830.0 1553.0,837.6 1555.5,845.2 1549.2,847.8 1546.7,852.8 1550.5,857.9 1554.3,864.2 1549.2,869.3 1544.1,875.7 1539.0,879.5 1537.8,885.8 1528.9,889.6 1518.8,889.6 1516.2,893.4 1515.0,903.5 1511.2,911.2 1507.4,918.8 1501.0,922.6 1493.4,925.1 1487.1,927.6 1485.8,934.0 1478.2,936.5 1474.4,944.1 1473.1,949.2 1478.2,954.3 1482.0,956.8 1473.1,960.6 1466.8,958.1 1465.5,947.9 1457.9,941.6 1447.8,939.0 1437.6,939.0 1432.6,939.0 1430.0,934.0 1437.6,930.2 1442.7,925.1 1438.9,918.8 1432.6,913.7 1424.9,912.4 1417.3,908.6 1412.3,903.5 1409.7,895.9 1407.2,899.7 1405.9,906.1 1399.6,908.6 1392.0,908.6 1389.5,903.5 1389.5,903.5 1389.5,898.5 1381.8,897.2 1375.5,897.2 1369.2,892.1 1361.6,885.8 1355.2,879.5 1351.4,876.9 1350.2,882.0 1348.9,879.5 1346.3,873.1 1341.3,868.1 1338.7,860.4 1343.8,852.8 1346.3,847.8 1354.0,845.2 1354.0,837.6 1355.2,827.5 1357.8,824.9 1364.1,827.5 1371.7,826.2 1375.5,822.4 1374.2,812.3 1375.5,802.1 1374.2,792.0 1375.5,781.8 1369.2,775.5 1365.4,767.9 1365.4,761.6 1361.6,756.5 1354.0,748.9 1346.3,741.3 1338.7,733.7 1328.6,727.3 1321.0,722.3 1315.9,715.9 1307.0,717.2 1303.2,718.5 1304.9,717.9 1300.4,716.8 1295.8,714.5 1290.1,713.4 1289.5,705.4 1289.0,698.5 1286.7,694.0 1286.7,687.1 1288.4,681.4 1293.0,678.0 1294.1,672.3 1294.7,665.5 1296.9,663.7 1302.6,665.5 1304.9,667.7 1304.9,674.6 1307.2,675.7 1314.1,672.3 1319.8,670.0 1318.6,665.5 1317.5,659.8 1313.5,655.2 1314.1,649.5 1315.2,642.6 1312.9,639.2 1312.9,634.7 1317.5,633.5 1320.9,634.7 1324.3,630.1 1327.7,627.8 1331.2,623.8 1338.0,623.3 1339.1,617.6 1341.4,611.9 1336.9,605.0 1332.3,598.2 1336.9,591.3 1337.4,586.8 1334.6,582.2 1332.3,574.2 1331.2,567.4 1331.8,567.2 1321.9,569.5 1313.0,572.8 1304.1,569.5 1296.3,565.0 1295.2,551.7 1293.0,544.0 1290.8,538.4 1281.9,539.5 1273.0,540.6 1270.8,532.9 1257.5,531.8 1246.4,534.0 1237.5,538.4 1233.1,549.5 1228.7,558.4 1215.4,558.4 1205.4,555.0 1208.7,545.1 1208.7,537.3 1202.1,536.2 1198.7,540.6 1197.6,549.5 1193.2,553.9 1186.5,556.2 1182.1,551.7 1179.9,545.1 1175.4,542.8 1165.4,540.6 1159.9,531.8 1155.5,525.1 1151.0,519.6 1154.4,516.2 1156.6,507.3 1155.5,500.7 1154.4,492.9 1159.9,491.8 1158.8,487.4 1155.5,482.9 1157.7,478.5 1159.9,474.1 1157.7,467.4 1158.8,460.8 1154.4,457.4 1152.1,453.0 1155.5,449.7 1158.8,445.2 1157.7,437.5 1164.3,436.4 1171.0,435.2 1177.6,437.5 1184.3,438.6 1188.7,437.5 1188.7,437.5 1187.6,434.1 1182.1,427.5 1175.4,423.0 1166.6,418.6 1157.7,414.2 1147.7,409.7 1147.7,405.3 1148.8,398.6 1151.0,392.0 1153.2,385.3 1159.9,383.1 1166.6,380.9 1171.0,376.5 1165.4,369.8 1158.8,365.4 1151.0,363.1 1147.7,358.7 1148.8,352.1 1147.7,343.2 1148.8,336.5 1146.6,332.1 1138.8,331.0 1133.3,328.8 1126.6,329.9 1117.7,333.2 1108.2,337.0 1108.2,336.9 1105.7,324.2 1106.9,317.9 1115.8,312.8 1123.4,309.0 1131.0,307.8 1138.6,306.5 1147.5,304.0 1147.5,297.6"/>
<polygon fill="#ea9100" points="596.1,257.0 605.0,255.8 617.6,254.5 630.3,255.8 643.0,254.5 655.7,254.5 668.4,257.0 681.0,254.5 693.7,255.8 708.9,250.7 719.1,253.2 731.7,252.0 750.0,252.0 748.2,250.7 755.8,244.4 763.4,238.0 767.2,238.0 774.8,241.8 778.6,248.2 783.7,252.0 787.5,254.5 788.7,259.6 796.3,258.3 806.5,258.8 816.6,259.6 826.8,258.3 831.8,260.9 842.0,260.9 847.1,263.4 852.1,269.7 857.2,272.3 867.3,272.3 877.5,274.8 890.2,276.1 902.8,278.6 915.5,281.1 928.2,286.2 940.9,287.5 953.5,288.7 953.5,288.7 966.2,288.7 978.9,287.5 991.6,287.5 1004.3,284.9 1014.4,281.1 1024.5,278.6 1032.2,276.1 1037.2,273.5 1044.8,272.3 1055.0,269.7 1060.0,273.5 1055.0,277.3 1051.2,281.1 1053.7,287.5 1057.5,282.4 1062.6,281.1 1065.1,276.1 1072.7,272.3 1082.9,268.5 1085.4,265.9 1093.0,268.5 1098.1,273.5 1105.7,274.8 1108.2,278.6 1104.4,281.1 1100.6,282.4 1103.1,287.5 1105.7,292.5 1108.2,295.1 1105.7,286.2 1110.8,284.9 1120.9,287.5 1131.0,287.5 1138.6,291.3 1147.5,297.6 1147.5,297.6 1147.5,304.0 1138.6,306.5 1131.0,307.8 1123.4,309.0 1115.8,312.8 1106.9,317.9 1105.7,324.2 1108.2,336.9 1108.2,336.9 1103.1,338.2 1095.5,336.9 1085.4,333.1 1077.8,331.8 1072.7,336.9 1065.1,342.0 1057.5,347.1 1051.2,349.6 1049.9,354.7 1042.3,359.7 1037.2,363.5 1030.9,369.9 1028.3,377.5 1030.9,382.6 1037.2,382.6 1041.0,377.5 1046.1,376.2 1049.9,378.8 1047.4,381.3 1041.0,385.1 1042.3,387.6 1048.6,388.9 1052.4,395.2 1052.4,404.1 1046.1,405.4 1039.8,406.6 1032.2,411.7 1027.1,410.4 1025.8,400.3 1023.3,400.3 1019.5,407.9 1014.4,410.4 1008.1,402.8 1001.7,402.8 999.2,397.8 995.4,392.7 994.1,382.6 991.6,373.7 978.9,372.4 973.8,367.3 968.8,359.7 961.2,355.9 953.5,358.5 943.4,359.7 933.3,361.0 924.4,362.3 921.9,354.7 918.1,349.6 913.0,347.1 909.2,339.5 909.2,329.8 909.2,329.8 905.4,321.7 900.3,319.7 892.7,321.7 887.6,325.5 882.6,329.8 876.2,330.6 872.4,336.9 871.1,344.5 864.8,343.3 857.2,345.8 847.1,348.3 838.2,347.1 831.8,348.3 829.3,353.4 819.2,354.7 816.6,357.2 809.0,362.3 804.0,359.7 796.3,358.5 790.0,355.9 783.7,357.2 778.6,364.8 776.1,371.1 768.5,371.1 760.9,368.6 750.7,362.3 748.2,355.9 750.0,354.7 741.9,353.4 731.7,354.7 721.6,355.9 714.0,361.0 703.9,358.5 693.7,354.7 688.6,357.2 686.1,362.3 676.0,368.6 681.0,369.9 681.0,377.5 670.9,378.8 660.8,381.3 650.6,380.0 640.5,381.3 636.7,386.4 632.9,382.6 625.3,381.3 625.3,381.3 622.7,374.9 615.1,372.4 607.5,367.3 603.7,366.1 605.0,359.7 610.0,354.7 615.1,349.6 622.7,344.5 625.3,338.2 620.2,331.8 615.1,333.1 610.0,336.9 607.5,328.0 599.9,323.0 593.6,315.4 592.3,306.5 587.2,297.6 579.6,292.5 578.3,286.2 584.7,282.4 593.6,273.5 597.4,263.4 596.1,257.0"/>
<polygon fill="#ecda00" points="1089.0,718.5 1096.7,726.1 1106.8,732.4 1108.1,738.7 1111.9,747.6 1108.1,756.5 1105.5,766.6 1101.7,774.2 1099.2,786.9 1105.5,792.0 1106.8,802.1 1111.9,807.2 1115.7,809.7 1116.9,817.3 1122.0,814.8 1124.5,819.9 1127.1,827.5 1129.6,835.1 1137.2,837.6 1141.0,845.2 1142.3,852.8 1148.6,860.4 1147.4,870.6 1142.3,878.2 1142.3,888.3 1147.4,885.8 1152.4,883.3 1156.2,890.9 1157.5,901.0 1157.5,907.4 1160.0,915.0 1155.0,920.0 1147.4,922.6 1143.6,918.8 1139.8,922.6 1129.6,925.1 1122.0,921.3 1115.7,922.6 1113.1,926.4 1106.8,927.6 1099.2,926.4 1092.8,928.9 1086.5,934.0 1078.9,937.8 1076.4,942.8 1068.8,944.1 1063.7,947.9 1053.5,955.5 1045.9,951.7 1044.7,947.9 1053.5,944.1 1061.2,942.8 1066.2,939.0 1073.8,931.4 1080.2,925.1 1082.7,916.2 1073.8,911.2 1066.2,908.6 1058.6,906.1 1053.5,903.5 1048.5,901.0 1040.9,898.5 1033.3,895.9 1028.2,894.7 1023.1,890.9 1018.1,887.1 1007.9,888.3 1002.8,883.3 1000.3,880.7 995.2,883.3 990.2,888.3 985.1,893.4 981.3,888.3 977.5,883.3 974.9,878.2 971.1,880.7 967.3,884.5 962.3,889.6 954.7,893.4 952.1,897.2 948.3,894.7 949.6,888.3 952.1,880.7 952.1,873.1 955.9,875.7 962.3,874.4 964.8,868.1 968.6,860.4 977.5,859.2 981.3,857.9 982.6,847.8 981.3,837.6 982.6,830.0 986.4,824.9 988.9,819.9 992.7,821.1 1002.8,818.6 1002.8,809.7 1005.4,804.7 1010.4,797.1 1015.5,789.5 1021.9,788.2 1029.5,788.2 1030.7,779.3 1033.3,769.2 1035.8,761.6 1039.6,756.5 1043.4,754.0 1051.0,751.4 1058.6,747.6 1061.2,741.3 1066.2,736.2 1073.8,731.1 1078.9,726.1 1084.0,721.0"/>
<polygon fill="#00e400" points="1128.8,389.8 1135.5,378.7 1142.2,376.5 1147.7,379.8 1149.9,385.3 1144.4,389.8 1141.0,394.2 1138.8,398.6 1133.3,394.2"/>
<polygon fill="#ea9100" points="1127.7,316.6 1132.2,314.3 1133.3,318.8 1131.1,326.5 1128.8,326.5"/>
<polygon fill="#e40000" points="1927.5,1010.2 1930.3,1006.0 1934.4,1004.6 1938.6,1001.9 1944.1,997.8 1949.6,992.3 1953.7,989.5 1957.8,988.8 1963.3,984.0 1968.8,977.1 1974.4,971.6 1979.9,967.5 1985.4,964.7 1988.1,960.6 1993.6,959.2 1999.1,956.5 2004.6,953.7 2010.2,950.9 2013.6,948.9 2017.0,949.6 2021.2,947.5 2025.3,945.4 2029.4,947.5 2032.2,946.8 2036.3,945.4 2040.4,942.7 2046.0,941.3 2050.8,942.7 2046.0,945.4 2041.8,947.5 2039.1,947.5 2036.3,948.2 2033.6,950.9 2032.9,955.1 2034.3,958.5 2037.7,959.9 2041.8,958.5 2046.0,955.8 2049.4,955.1 2048.0,957.8 2047.3,962.0 2043.2,964.7 2039.1,965.4 2037.0,966.1 2037.0,970.2 2039.1,974.4 2043.2,978.5 2048.7,981.9 2055.6,984.0 2061.1,981.2 2066.6,977.8 2068.7,974.4 2073.5,977.1 2079.0,979.9 2085.2,981.9 2085.2,985.4 2086.6,988.1 2084.5,990.9 2084.5,996.4 2083.1,1000.5 2079.0,1003.3 2076.2,1008.8 2076.9,1012.9 2073.5,1015.7 2068.0,1021.2 2063.9,1025.3 2061.1,1030.8 2059.7,1036.3 2059.0,1041.8 2055.6,1046.0 2052.8,1051.5 2048.7,1054.2 2043.2,1058.3 2037.7,1061.8 2033.6,1065.2 2028.7,1069.4 2025.3,1066.6 2021.2,1062.5 2018.4,1059.7 2017.0,1055.6 2014.3,1052.8 2008.8,1052.8 2003.3,1052.2 1997.8,1052.8 1993.6,1052.2 1988.1,1048.7 1984.0,1044.6 1982.6,1040.4 1982.6,1034.9 1981.2,1031.5 1983.3,1027.4 1982.6,1023.9 1979.9,1021.2 1977.1,1018.4 1973.0,1015.7 1968.8,1015.7 1966.1,1018.4 1962.0,1021.2 1957.8,1021.9 1955.1,1023.9 1953.7,1028.1 1952.3,1034.9 1946.8,1033.6 1944.1,1029.4 1945.4,1024.6 1941.3,1021.9 1937.2,1021.2 1933.0,1021.9 1930.3,1021.2 1929.6,1018.4 1927.5,1014.3"/>
<polygon fill="#e40000" points="2132.7,931.7 2136.1,924.8 2139.6,922.7 2145.1,922.7 2150.6,922.0 2154.7,921.3 2161.6,920.7 2166.4,920.7 2169.9,919.3 2173.3,916.5 2175.4,919.3 2180.9,920.7 2186.4,921.3 2187.1,924.8 2190.5,928.9 2193.3,933.0 2198.8,937.2 2200.2,941.3 2202.9,946.8 2204.3,950.9 2207.1,955.8 2205.0,960.6 2202.9,967.5 2198.8,968.8 2193.3,967.5 2189.2,964.7 2185.0,962.0 2179.5,957.8 2174.0,953.7 2169.9,950.9 2165.7,948.9 2161.6,946.8 2156.1,946.1 2150.6,946.8 2146.5,948.2 2141.0,948.9 2136.1,949.6 2136.1,944.1 2136.1,937.2"/>
<polygon fill="#e40000" points="2007.4,1091.4 2010.2,1088.6 2015.7,1089.3 2016.4,1092.8 2012.9,1095.5 2008.8,1095.5"/>
<polygon fill="#e40000" points="1768.1,1124.9 1772.0,1123.4 1776.5,1123.0 1779.6,1122.2 1778.0,1118.0 1778.0,1113.5 1781.1,1110.4 1784.9,1107.4 1787.9,1105.1 1792.5,1102.8 1797.1,1101.7 1800.9,1099.8 1805.4,1098.3 1810.0,1096.7 1813.0,1096.7 1816.1,1099.8 1820.6,1100.2 1822.9,1102.8 1821.4,1105.9 1822.2,1109.7 1822.9,1112.7 1820.6,1115.0 1819.1,1118.8 1815.3,1120.3 1813.0,1123.4 1812.3,1127.2 1809.2,1129.4 1806.2,1132.5 1803.1,1134.0 1799.3,1134.8 1796.3,1137.1 1794.8,1140.1 1794.8,1145.4 1794.0,1148.5 1791.7,1147.7 1789.4,1148.5 1787.9,1144.7 1785.6,1143.1 1782.6,1143.9 1778.8,1142.4 1775.0,1140.9 1772.7,1143.9 1769.7,1142.4 1767.4,1139.3 1767.4,1136.3 1768.1,1132.5 1768.9,1129.4"/>
<polygon fill="#e40000" points="1796.3,1160.6 1797.8,1164.4 1800.1,1166.7 1803.1,1168.2 1804.7,1171.3 1807.7,1174.3 1810.7,1176.6 1813.0,1175.9 1816.1,1175.1 1819.1,1176.6 1819.9,1179.7 1817.6,1181.9 1813.8,1181.9 1810.7,1181.2 1807.7,1178.9 1803.9,1176.6 1800.9,1175.1 1797.8,1178.9 1794.8,1181.9 1791.7,1183.5 1790.6,1181.2 1790.6,1175.1 1791.0,1169.8 1793.3,1167.5 1795.5,1166.7"/>
<polygon fill="#e40000" points="1191.0,407.5 1199.8,405.3 1208.7,405.3 1217.6,407.5 1226.5,409.7 1233.1,413.1 1230.9,418.6 1227.6,421.9 1230.9,425.3 1235.3,425.3 1237.5,430.8 1237.5,434.1 1228.7,433.0 1222.0,431.9 1215.4,430.8 1208.7,429.7 1203.2,427.5 1197.6,423.0 1193.2,418.6 1189.9,414.2"/>
<polygon fill="#e40000" points="1872.1,469.8 1875.0,463.5 1877.8,466.9 1879.2,472.6"/>
<polygon fill="#fbf6c8" stroke-width="2" points="830.4,1668.1 834.2,1667.6 836.5,1668.9 838.0,1671.2 839.9,1671.9 842.6,1670.4 845.6,1670.4 846.4,1671.9 844.9,1673.5 841.1,1674.2 838.0,1675.4 836.5,1676.5 834.2,1675.0 832.3,1672.7 830.8,1670.0"/>
<polygon fill="#fbf6c8" stroke-width="2" points="1173.6,1771.2 1176.6,1770.8 1178.1,1773.1 1179.3,1775.7 1177.8,1777.3 1178.1,1779.5 1180.4,1781.1 1180.8,1782.6 1178.9,1781.8 1176.6,1780.3 1174.3,1780.3 1172.8,1778.4 1172.8,1775.0"/>
<circle cx="1163.5" cy="1664" r="2.6" fill="#000" stroke="none"/>
<circle cx="1432.7" cy="1701" r="1.2" fill="#000" stroke="none"/>
</g>
<g fill="none" stroke="#000" stroke-width="2.2" stroke-linejoin="round">
<polyline points="953.5,288.7 952.3,293.8 951.0,300.2 953.5,306.5 951.0,311.6 948.5,309.0 943.4,307.8 938.3,309.0 933.3,312.8 925.7,314.1 923.1,319.2 924.4,326.8 920.6,328.8 909.2,329.8"/>
<polyline points="625.3,381.3 622.7,392.7 621.5,402.8 615.1,410.4 607.5,414.2 601.2,419.3 596.1,425.7 598.6,435.8 594.8,443.4 593.6,453.5 591.0,461.2 599.9,462.4 610.0,459.9 620.2,463.7 629.1,467.5 627.8,473.8 627.8,481.4 635.4,486.5 639.2,491.6 637.9,501.7 632.9,509.3 629.1,516.9 621.5,515.7 615.1,519.5 608.8,524.5 605.0,532.2 599.9,539.8 597.4,546.1 605.0,549.9 607.5,555.0 603.7,565.1"/>
<polyline points="1303.2,718.5 1303.2,726.1 1300.7,732.4 1295.6,728.6 1290.6,726.1 1283.0,729.9 1275.4,731.1 1270.3,733.7 1262.7,736.2 1255.1,733.7 1250.0,736.2 1248.8,734.9 1242.4,726.1 1236.1,718.5 1229.8,719.7 1227.2,713.4 1228.5,708.3 1220.9,703.2 1210.8,702.0 1208.2,696.9 1200.6,699.4 1187.9,695.6 1185.4,688.0 1177.8,689.3 1170.2,691.8 1160.0,695.6 1149.9,693.1 1137.2,691.8 1129.6,696.9 1119.5,699.4 1110.6,698.2 1110.6,708.3 1104.3,712.1 1091.6,718.5"/>
<polyline points="948.3,894.7 936.9,898.5 929.3,893.4 928.0,883.3 919.2,884.5 912.8,885.8 911.6,893.4 904.0,899.7 896.3,903.5 893.8,911.2 886.2,913.7 883.7,906.1 876.1,906.1 868.5,911.2 863.4,916.2 857.0,917.5 848.2,915.0 838.0,913.7 835.5,912.4"/>
<polyline points="621.4,885.9 626.5,889.7 634.1,888.4 641.7,887.1 649.3,885.9 662.0,882.1 664.5,874.5 672.1,869.4 682.2,865.6 689.8,860.5 694.9,852.9 702.5,850.4 712.6,845.3 720.3,849.1 725.3,854.2 730.4,854.2 734.2,859.3 730.4,868.1 740.5,871.9 748.1,878.3 757.0,882.1 760.8,874.5 771.0,870.7 773.5,878.3 781.1,879.5 788.7,882.1 793.8,887.1 798.8,893.5 809.0,898.5 816.6,896.0 824.2,889.7 835.6,887.1 834.3,899.8 836.9,909.9 837.4,913.0"/>
<polyline points="835.5,912.4 833.0,916.2 833.0,928.9 830.4,941.6 827.9,956.8 835.5,955.5 843.1,960.6 841.8,969.5 840.6,979.6 848.2,979.6 853.2,973.3 860.9,973.3 862.1,979.6 865.9,987.2 863.4,994.8 860.9,1002.4 857.0,1010.0 865.9,1017.6 873.5,1027.8 881.1,1032.9 888.7,1040.5 896.3,1046.8 904.0,1050.1 907.8,1048.3 919.2,1042.6 929.2,1036.9 930.6,1042.6 927.8,1054.0 919.2,1059.7 922.1,1065.4 927.8,1078.3 934.9,1088.3 929.2,1084.0 922.1,1081.1 910.6,1084.0 904.9,1091.1 910.6,1099.7 907.8,1108.2 899.2,1108.2 892.1,1109.6 895.0,1119.6 899.2,1125.3 907.8,1131.0 902.1,1138.2 895.0,1142.4 890.7,1153.8 887.8,1165.2 879.3,1168.1"/>
<polyline points="609.8,1262.2 616.9,1265.1 628.3,1267.9 629.8,1276.5 634.0,1282.2 645.4,1283.6 654.0,1283.6 659.7,1287.9 662.5,1295.0 671.1,1296.4 676.8,1297.9 678.2,1290.7 685.4,1290.7 691.1,1296.4 693.9,1300.7 702.5,1303.6 711.0,1307.8 716.7,1309.3 725.3,1305.0 733.8,1302.1 742.4,1299.3 751.0,1297.9 753.8,1287.9 756.7,1282.2 762.4,1276.5 768.1,1267.9 776.6,1266.5 782.3,1265.1 786.6,1270.8 782.3,1276.5 783.7,1283.6 790.9,1280.7 799.4,1275.0 810.8,1269.3 810.8,1259.4 808.0,1247.9 805.1,1236.5 805.1,1222.3 810.8,1216.6 819.4,1212.3 825.1,1205.2 830.8,1196.6 839.4,1192.3 847.9,1185.2 859.3,1178.1 862.2,1171.0 870.7,1169.5 879.3,1168.1"/>
<polyline points="879.3,1168.1 890.7,1173.8 902.1,1175.2 904.9,1188.1 916.3,1192.3 927.8,1199.5 939.2,1208.0 944.9,1212.3 950.0,1213.7 950.0,1213.2 962.7,1227.4 975.3,1232.2 986.4,1236.9 988.0,1227.4 1000.7,1227.4 1013.4,1229.0 1026.0,1232.2 1038.7,1230.6 1048.2,1229.0 1053.0,1222.7 1064.1,1222.7 1076.7,1225.8 1086.2,1225.8 1087.8,1217.9 1092.6,1219.5 1094.2,1224.3 1105.2,1225.8 1113.2,1221.1 1117.9,1213.2 1130.6,1213.2 1140.1,1214.7 1149.6,1217.9 1159.1,1213.2 1168.6,1222.7 1173.4,1214.7 1184.4,1214.7 1194.0,1208.4 1203.5,1203.7 1213.0,1206.8 1228.8,1206.8 1230.4,1224.3 1241.5,1227.4 1243.1,1235.3 1249.4,1249.6 1247.8,1259.1 1246.2,1265.4 1239.9,1274.9 1233.6,1284.4 1247.8,1290.8 1263.7,1294.0"/>
<polyline points="1263.7,1294.0 1270.0,1303.5 1279.5,1313.0 1289.0,1317.7 1298.5,1319.3 1312.8,1322.5 1311.2,1335.1 1309.6,1354.1 1314.3,1366.8 1323.8,1382.7 1334.9,1398.5 1339.7,1396.9 1349.2,1401.7 1363.5,1409.6"/>
<polyline points="1263.7,1294.0 1273.2,1278.1 1281.1,1263.9 1292.2,1259.1 1304.8,1246.4 1312.8,1248.0 1327.0,1241.7 1342.9,1232.2 1352.4,1233.8 1355.5,1240.1 1365.0,1241.7 1377.7,1233.8 1384.0,1225.8 1382.5,1205.2 1384.0,1195.7 1388.8,1189.4 1390.4,1176.7 1399.9,1172.0 1406.2,1173.6 1415.7,1167.2 1425.2,1164.1 1434.7,1167.2 1437.9,1173.6 1449.0,1179.9"/>
<polyline points="1449.0,1179.9 1452.2,1192.6 1450.6,1208.4 1441.1,1221.1 1441.1,1236.9 1453.7,1243.3 1456.9,1252.8 1453.7,1265.4 1447.4,1278.1 1456.9,1297.1 1466.4,1313.0 1475.9,1325.6 1485.4,1328.8"/>
<polyline points="1432.6,939.0 1424.9,944.1 1424.9,954.3 1423.7,966.9 1419.9,974.5 1414.8,982.2 1416.1,989.8 1409.7,994.8 1402.1,993.6 1397.1,996.1 1392.0,1002.4 1388.2,1010.0 1381.8,1015.1 1381.8,1025.3 1379.3,1035.4 1383.1,1043.0 1388.2,1050.1 1390.4,1050.0 1403.1,1053.2 1418.9,1057.9 1428.4,1062.7 1425.2,1084.9 1418.9,1094.4 1415.7,1107.0 1425.2,1119.7 1431.6,1130.8 1447.4,1129.2 1456.9,1127.6 1463.2,1138.7 1463.2,1148.2 1460.1,1160.9 1466.4,1175.1 1460.1,1178.3 1449.0,1179.9"/>
<polyline points="1389.5,903.5 1393.3,913.7 1395.8,921.3 1398.3,930.2 1407.2,932.7 1417.3,935.2 1427.5,932.7 1432.6,939.0"/>
<polyline points="1618.9,795.8 1625.3,797.1 1627.8,802.1 1632.9,807.2 1635.4,814.8 1645.5,818.6 1653.1,822.4 1658.2,827.5 1660.8,832.6 1667.1,835.1"/>
<polyline points="1348.5,306.6 1341.8,309.9 1339.6,314.3 1332.9,321.0 1326.3,322.1 1324.1,325.4 1323.0,332.1 1325.2,339.9 1319.6,345.4 1311.9,349.8 1306.3,354.3 1304.1,363.1 1299.7,369.8 1290.8,375.3 1281.9,376.5 1277.5,383.1 1277.5,392.0 1275.3,398.6 1270.8,405.3 1268.6,414.2 1266.4,418.6 1268.6,429.7 1264.2,434.1 1255.3,434.1 1248.6,437.5 1243.1,440.8 1242.0,445.2 1246.4,447.4 1253.1,445.2 1255.3,449.7 1254.2,458.5 1250.9,463.0 1244.2,464.1"/>
<polyline points="1244.2,464.1 1239.8,463.0 1233.1,464.1 1226.5,466.3 1219.8,463.0 1213.1,456.3 1210.9,445.2 1204.3,439.7 1199.8,443.0 1195.4,450.8 1193.2,445.2 1188.7,437.5"/>
<polyline points="1244.2,464.1 1255.3,468.5 1268.6,471.9 1281.9,477.4 1294.1,480.7 1299.7,489.6 1306.3,488.5 1315.2,491.8 1321.9,496.3 1328.5,505.1 1335.2,511.8 1344.0,516.2 1352.9,520.7 1355.1,529.5 1348.5,531.8 1341.8,530.6 1335.2,535.1 1328.5,540.6 1325.2,547.3 1326.3,553.9 1332.9,558.4 1331.8,567.2"/>
<polyline points="1332.9,558.4 1344.0,562.8 1355.1,565.0 1366.2,569.5 1375.1,575.0 1384.0,573.9 1395.1,575.0 1399.5,560.6 1408.4,549.5 1402.8,540.6 1397.3,529.5 1395.1,516.2 1398.4,505.1 1401.7,494.0 1405.0,489.6 1402.8,482.9 1403.9,474.1 1409.5,463.0 1412.8,454.1 1419.5,450.8 1426.1,445.2 1431.7,440.8 1431.7,434.1 1441.7,433.0 1446.1,427.5 1448.3,423.0 1457.2,420.8 1466.1,414.2 1472.7,409.7 1474.9,400.9 1477.1,389.8 1483.8,383.1 1490.5,382.0 1494.9,385.3"/>
<polyline stroke-width="4" points="694.0,1515.5 695.2,1502.8 697.8,1495.2 705.4,1494.0 709.2,1487.6 715.5,1487.6 720.6,1477.5 724.4,1469.9 730.7,1467.3"/>
<polyline stroke-width="4" points="605.2,1421.7 606.5,1431.8 602.7,1439.5 609.0,1445.8 611.6,1442.0 616.6,1434.4 624.2,1425.5"/>
<polyline stroke-width="4" points="1678.3,801.3 1692.2,799.5 1703.0,803.1 1709.0,803.7 1716.3,800.1"/>
<polyline stroke-width="4" points="1696.4,795.9 1706.0,792.9"/>
<polyline stroke-width="4" points="1489.4,1347.0 1490.3,1356.5 1494.1,1364.0"/>
</g>
<rect x="782" y="61" width="1281" height="71" rx="24" ry="24" fill="#fff"/>
<text x="1422.6" y="113.5" text-anchor="middle" font-family="DejaVu Sans, Liberation Sans, sans-serif" font-size="56" fill="#000">Céntimo Sanitario por CCAA - Enero 2014</text>
<rect x="2320" y="547" width="97" height="578" fill="url(#cb)"/>
<text x="2437.5" y="575" font-family="DejaVu Sans, Liberation Sans, sans-serif" font-size="40.3" fill="#000">4,8c€/litro</text>
<text x="2437.5" y="1125" font-family="DejaVu Sans, Liberation Sans, sans-serif" font-size="40.3" fill="#000">0c€/litro</text>
<rect x="2845" y="0" width="1" height="1932" fill="#fff" fill-opacity="0.75"/>
<rect x="0" y="1931" width="2846" height="1" fill="#fff" fill-opacity="0.55"/>
</svg></body></html>
